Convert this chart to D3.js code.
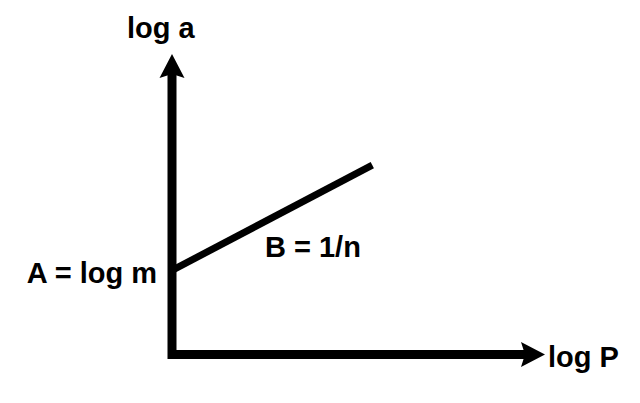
<!DOCTYPE html>
<html>
    <head>
        <script src="https://cdn.jsdelivr.net/npm/d3@7"></script>
        <style>
            body { margin: 0; background: #fff; }
            text { font-family: "Liberation Sans", Arial, sans-serif; font-weight: bold; font-size: 29px; fill: #000; }
        </style>
    </head>
    <body>
        <div id="viz"></div>
        <script>
            // schematic values (arbitrary units, axes run 0..10)
            const axisMax = 10;
            const lineX = [0, 5.37];
            const lineY = [2.8, 6.3];
            const yLabel = "log a";
            const xLabel = "log P";
            const interceptLabel = "A = log m";
            const slopeLabel = "B = 1/n";

            const width = 640, height = 403;
            const origin = {x: 172, y: 354.5};

            const svg = d3.select("#viz")
                .append("svg")
                .attr("width", width)
                .attr("height", height);

            const x = d3.scaleLinear().domain([0, axisMax]).range([origin.x, 545]);
            const y = d3.scaleLinear().domain([0, axisMax]).range([origin.y, 54]);

            const headLen = 24, headHalf = 12.5, stroke = 9;

            // axes shafts
            svg.append("path")
                .attr("d", d3.line()([[x(0), y(axisMax) + headLen - 2], [x(0), y(0)], [x(axisMax) - headLen + 2, y(0)]]))
                .style("fill", "none")
                .style("stroke", "#000")
                .style("stroke-width", stroke)
                .style("stroke-linejoin", "miter")
                .style("stroke-linecap", "square");

            // arrow heads
            svg.append("path")
                .attr("d", d3.line()([
                    [x(0), y(axisMax)],
                    [x(0) + headHalf, y(axisMax) + headLen],
                    [x(0), y(axisMax) + headLen - 4],
                    [x(0) - headHalf, y(axisMax) + headLen]
                ]) + "Z")
                .style("fill", "#000");

            svg.append("path")
                .attr("d", d3.line()([
                    [x(axisMax), y(0)],
                    [x(axisMax) - headLen, y(0) - headHalf],
                    [x(axisMax) - headLen + 4, y(0)],
                    [x(axisMax) - headLen, y(0) + headHalf]
                ]) + "Z")
                .style("fill", "#000");

            // the fitted line
            svg.append("path")
                .attr("d", d3.line()(lineX.map((v, i) => [x(v), y(lineY[i])])))
                .style("fill", "none")
                .style("stroke", "#000")
                .style("stroke-width", 7);

            // labels
            svg.append("text")
                .attr("x", x(0) - 45)
                .attr("y", 38)
                .text(yLabel);

            svg.append("text")
                .attr("x", x(axisMax) + 3)
                .attr("y", y(0) + 12)
                .text(xLabel);

            svg.append("text")
                .attr("x", x(0) - 15)
                .attr("y", y(lineY[0]) + 13)
                .style("text-anchor", "end")
                .text(interceptLabel);

            svg.append("text")
                .attr("x", 265)
                .attr("y", 257)
                .text(slopeLabel);
        </script>
    </body>
</html>
